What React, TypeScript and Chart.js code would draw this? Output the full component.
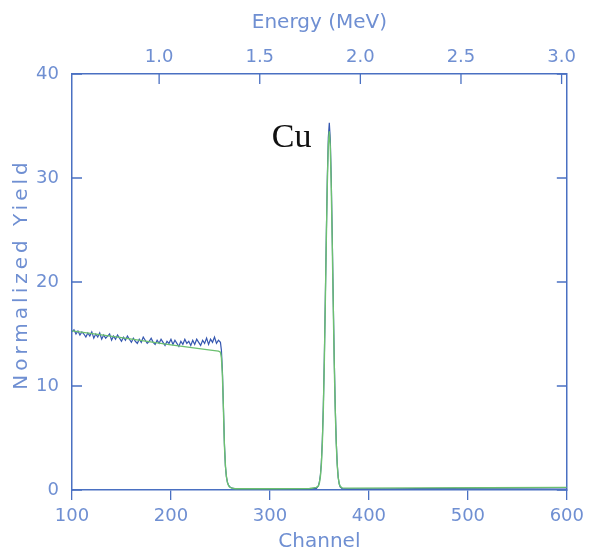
import React, { useEffect, useRef } from 'react';
import { Chart, registerables } from 'chart.js';

Chart.register(...registerables);

// ---- axis ticks / calibration ----
const CHANNEL_TICKS = [100, 200, 300, 400, 500, 600];
const YIELD_TICKS = [0, 10, 20, 30, 40];
const ENERGY_TICKS = [1.0, 1.5, 2.0, 2.5, 3.0];
const ENERGY_AT_CH100 = 0.567;
const ENERGY_AT_CH600 = 3.026;

// ---- measured spectrum (blue) ----
const SPECTRUM_CH = [
  100, 102, 104, 106, 108, 110, 112, 114, 116, 118, 120, 122, 124, 126, 128, 130, 132, 134, 136, 138,
  140, 142, 144, 146, 148, 150, 152, 154, 156, 158, 160, 162, 164, 166, 168, 170, 172, 174, 176, 178,
  180, 182, 184, 186, 188, 190, 192, 194, 196, 198, 200, 202, 204, 206, 208, 210, 212, 214, 216, 218,
  220, 222, 224, 226, 228, 230, 232, 234, 236, 238, 240, 242, 244, 246, 248, 250,
  251, 252, 253, 254, 255, 256, 257, 258, 259, 260, 262, 264, 266, 270,
  280, 300, 320, 340, 347, 349,
  350, 351, 352, 353, 354, 355, 356, 357, 358, 359, 360, 361, 362, 363, 364, 365, 366, 367, 368, 369, 370, 371, 373,
  380, 420, 480, 540, 600,
];
const SPECTRUM_YIELD = [
  15.2, 15.4, 15.0, 15.3, 14.9, 15.2, 15.0, 14.7, 15.1, 14.8, 15.2, 14.6, 15.0, 14.7, 15.1, 14.5, 14.9, 14.6, 14.8, 15.0,
  14.4, 14.8, 14.5, 14.9, 14.6, 14.3, 14.7, 14.4, 14.8, 14.5, 14.2, 14.6, 14.3, 14.1, 14.5, 14.2, 14.7, 14.4, 14.1, 14.3,
  14.6, 14.2, 14.0, 14.4, 14.1, 14.5, 14.2, 13.9, 14.3, 14.1, 14.5, 14.0, 14.4, 14.1, 13.8, 14.3, 14.0, 14.5, 14.1, 14.3,
  13.9, 14.4, 14.0, 14.5, 14.2, 13.9, 14.4, 14.1, 14.6, 14.0, 14.5, 14.2, 14.7, 14.1, 14.4, 14.2,
  13.4, 11.4, 8.0, 4.5, 2.3, 1.3, 0.75, 0.5, 0.35, 0.26, 0.18, 0.13, 0.1, 0.08,
  0.1, 0.06, 0.1, 0.08, 0.15, 0.4,
  0.8, 1.4, 2.7, 4.9, 8.2, 12.8, 18.5, 24.6, 30.1, 33.9, 35.3, 33.7, 29.8, 24.3, 18.2, 12.6, 8.0, 4.7, 2.5, 1.2, 0.6, 0.3, 0.12,
  0.1, 0.12, 0.15, 0.18, 0.2,
];

// ---- simulated fit (green) ----
const FIT_CH = [
  100, 150, 200, 240, 248, 250,
  251, 252, 253, 254, 255, 256, 257, 258, 259, 260, 262, 265,
  300, 340, 347, 349,
  350, 351, 352, 353, 354, 355, 356, 357, 358, 359, 360, 361, 362, 363, 364, 365, 366, 367, 368, 369, 370, 371, 373,
  380, 450, 520, 600,
];
const FIT_YIELD = [
  15.3, 14.65, 13.95, 13.45, 13.35, 13.25,
  12.7, 11.0, 7.8, 4.3, 2.4, 1.3, 0.75, 0.47, 0.32, 0.24, 0.17, 0.12,
  0.12, 0.15, 0.25, 0.4,
  0.7, 1.3, 2.5, 4.6, 7.9, 12.5, 18.2, 24.2, 29.5, 33.2, 34.5, 33.0, 29.0, 23.5, 17.6, 12.1, 7.7, 4.5, 2.4, 1.2, 0.6, 0.35, 0.2,
  0.18, 0.2, 0.22, 0.25,
];

// ---- annotation ----
const PEAK_LABEL = 'Cu';
const PEAK_LABEL_CH = 342;
const PEAK_LABEL_YIELD = 33.0;

const FRAME = '#4a70c2';
const TEXT = '#6f8fd2';
const BLUE = '#3557b0';
const GREEN = '#6cc070';
const FONT = "'DejaVu Sans', sans-serif";

const overlay = {
  id: 'overlay',
  afterDraw(chart: any) {
    const { ctx, chartArea: a, scales } = chart;
    ctx.save();
    // inward ticks on left, right and top frames
    ctx.strokeStyle = FRAME;
    ctx.lineWidth = 1.3;
    ctx.beginPath();
    for (const v of YIELD_TICKS) {
      const y = scales.y.getPixelForValue(v);
      ctx.moveTo(a.left, y);
      ctx.lineTo(a.left + 10, y);
      ctx.moveTo(a.right, y);
      ctx.lineTo(a.right - 10, y);
    }
    for (const v of ENERGY_TICKS) {
      const x = scales.xTop.getPixelForValue(v);
      ctx.moveTo(x, a.top);
      ctx.lineTo(x, a.top + 10);
    }
    ctx.stroke();

    // peak label
    ctx.fillStyle = '#111';
    ctx.font = "34px 'Liberation Serif', serif";
    ctx.textAlign = 'right';
    ctx.textBaseline = 'alphabetic';
    ctx.fillText(PEAK_LABEL, scales.x.getPixelForValue(PEAK_LABEL_CH), scales.y.getPixelForValue(PEAK_LABEL_YIELD));

    // y axis title
    ctx.translate(22, (a.top + a.bottom) / 2 - 8);
    ctx.rotate(-Math.PI / 2);
    ctx.fillStyle = TEXT;
    ctx.font = `20px ${FONT}`;
    (ctx as any).letterSpacing = '4px';
    ctx.textAlign = 'center';
    ctx.textBaseline = 'middle';
    ctx.fillText('Normalized Yield', 0, 0);
    ctx.restore();
  },
};

export default function App() {
  const ref = useRef<HTMLCanvasElement | null>(null);
  useEffect(() => {
    if (!ref.current) return;
    const spectrum = SPECTRUM_CH.map((c, i) => ({ x: c, y: SPECTRUM_YIELD[i] }));
    const fit = FIT_CH.map((c, i) => ({ x: c, y: FIT_YIELD[i] }));
    const tickFont = { family: FONT, size: 18 };
    const chart = new Chart(ref.current, {
      type: 'line',
      data: {
        datasets: [
          { data: spectrum, borderColor: BLUE, borderWidth: 1.2, pointRadius: 0, tension: 0, order: 2, xAxisID: 'x', yAxisID: 'y' },
          { data: fit, borderColor: GREEN, borderWidth: 1.4, pointRadius: 0, tension: 0, order: 1, xAxisID: 'x', yAxisID: 'y' },
        ],
      },
      options: {
        responsive: false,
        animation: false,
        layout: { padding: 0 },
        plugins: { legend: { display: false }, tooltip: { enabled: false } },
        scales: {
          x: {
            type: 'linear',
            position: 'bottom',
            min: 100,
            max: 600,
            afterBuildTicks: (s: any) => { s.ticks = CHANNEL_TICKS.map((v) => ({ value: v })); },
            afterFit: (s: any) => { s.height = 64; },
            grid: { drawOnChartArea: false, drawTicks: true, tickLength: 10, color: FRAME, lineWidth: 1.3 },
            border: { display: true, color: FRAME, width: 1.5 },
            ticks: { color: TEXT, font: tickFont, padding: 6, maxRotation: 0 },
            title: { display: true, text: 'Channel', color: TEXT, font: { family: FONT, size: 20 }, padding: { top: 0, bottom: 0 } },
          },
          xTop: {
            type: 'linear',
            position: 'top',
            min: ENERGY_AT_CH100,
            max: ENERGY_AT_CH600,
            afterBuildTicks: (s: any) => { s.ticks = ENERGY_TICKS.map((v) => ({ value: v })); },
            afterFit: (s: any) => { s.height = 74; },
            grid: { drawOnChartArea: false, drawTicks: false },
            border: { display: true, color: FRAME, width: 1.5 },
            ticks: { color: TEXT, font: tickFont, padding: 6, maxRotation: 0, callback: (v: any) => Number(v).toFixed(1) },
            title: { display: true, text: 'Energy (MeV)', color: TEXT, font: { family: FONT, size: 20 }, padding: { top: 11, bottom: 0 } },
          },
          y: {
            type: 'linear',
            position: 'left',
            min: 0,
            max: 40,
            afterBuildTicks: (s: any) => { s.ticks = YIELD_TICKS.map((v) => ({ value: v })); },
            afterFit: (s: any) => { s.width = 72; },
            grid: { drawOnChartArea: false, drawTicks: false },
            border: { display: true, color: FRAME, width: 1.5 },
            ticks: { color: TEXT, font: tickFont, padding: 13 },
          },
          y2: {
            type: 'linear',
            position: 'right',
            min: 0,
            max: 40,
            afterFit: (s: any) => { s.width = 20; },
            grid: { drawOnChartArea: false, drawTicks: false },
            border: { display: true, color: FRAME, width: 1.5 },
            ticks: { display: false },
          },
        },
      },
      plugins: [overlay],
    });
    return () => chart.destroy();
  }, []);
  return (
    <div style={{ position: 'fixed', left: 0, top: 0, width: 590, height: 554, background: '#fff' }}>
      <canvas ref={ref} width={590} height={554} />
    </div>
  );
}
